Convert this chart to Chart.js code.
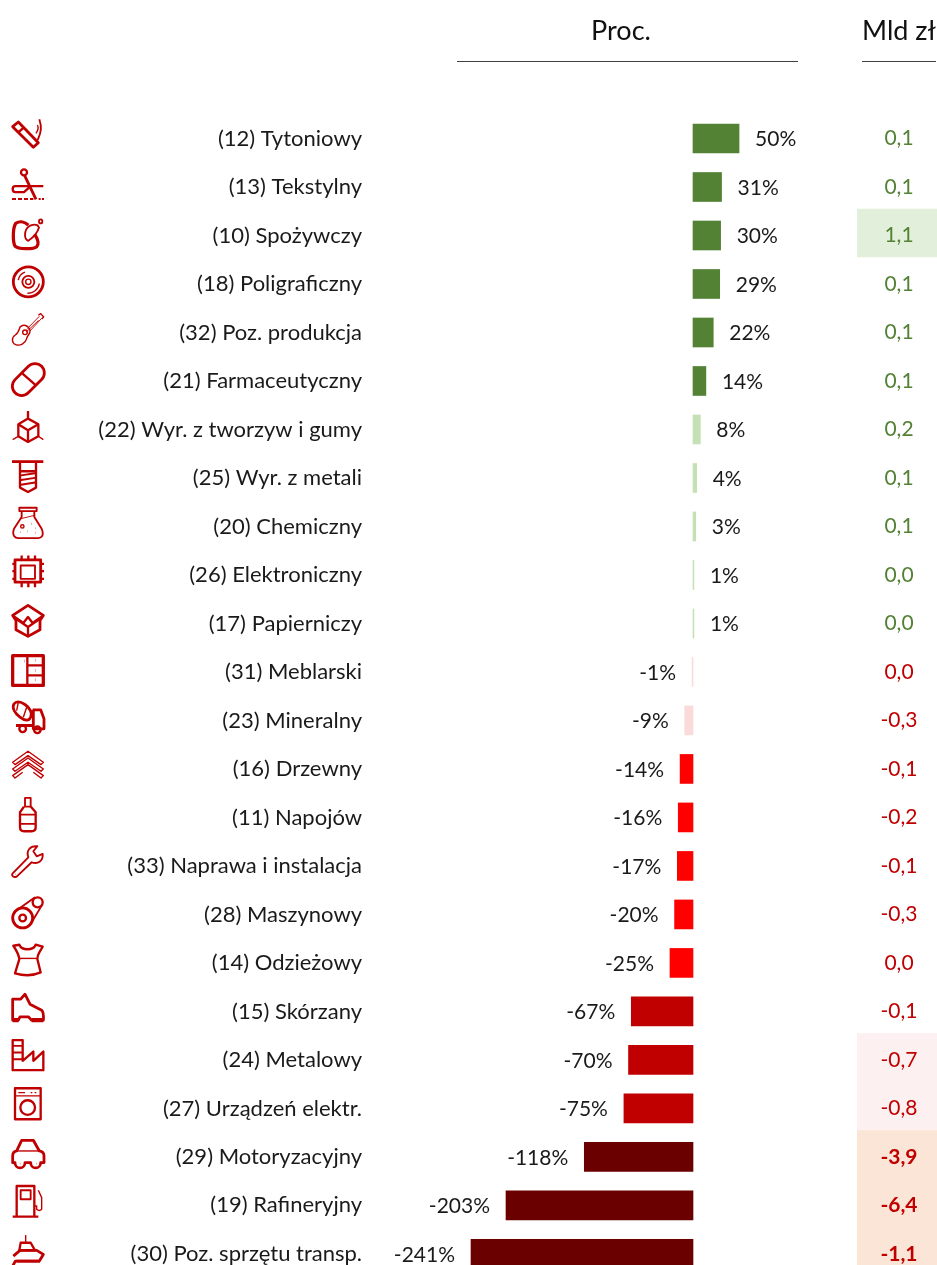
<!DOCTYPE html>
<html><head><meta charset="utf-8">
<style>html,body{margin:0;padding:0;background:#fff;overflow:hidden}#w{width:937px;height:1265px;position:relative}</style>
<script src="https://cdn.jsdelivr.net/npm/chart.js@4"></script>
</head><body><div id="w"><canvas id="c"></canvas></div>
<script>
const categories=["(12) Tytoniowy","(13) Tekstylny","(10) Spożywczy","(18) Poligraficzny","(32) Poz. produkcja","(21) Farmaceutyczny","(22) Wyr. z tworzyw i gumy","(25) Wyr. z metali","(20) Chemiczny","(26) Elektroniczny","(17) Papierniczy","(31) Meblarski","(23) Mineralny","(16) Drzewny","(11) Napojów","(33) Naprawa i instalacja","(28) Maszynowy","(14) Odzieżowy","(15) Skórzany","(24) Metalowy","(27) Urządzeń elektr.","(29) Motoryzacyjny","(19) Rafineryjny","(30) Poz. sprzętu transp."];
const proc=[50,31,30,29,22,14,8,4,3,1,1,-1,-9,-14,-16,-17,-20,-25,-67,-70,-75,-118,-203,-241];
const mld=["0,1","0,1","1,1","0,1","0,1","0,1","0,2","0,1","0,1","0,0","0,0","0,0","-0,3","-0,1","-0,2","-0,1","-0,3","0,0","-0,1","-0,7","-0,8","-3,9","-6,4","-1,1"];
const mldGreenRows=11;
const barColors=["#548235","#548235","#548235","#548235","#548235","#548235","#C5E0B4","#C5E0B4","#C5E0B4","#C5E0B4","#C5E0B4","#FBDADA","#FBDADA","#FF0000","#FF0000","#FF0000","#FF0000","#FF0000","#C00000","#C00000","#C00000","#6B0000","#6B0000","#6B0000"];
const mldBands=[{from:2,to:2,color:"#E2EFDA"},{from:19,to:20,color:"#FDF0F0"},{from:21,to:23,color:"#FBE5D6"}];
const boldFrom=21;
const FONT="Lato, sans-serif";

// icons: [reference row-centre in local units, [width, path]...], local units are 1/3 px
const icons=[
[85.5,[6,"M38,50L55,36L115,98L100,112Z"],[5,"M56,66L72,52"],[4,"M113,90C125,65 125,50 118,28"],[3,"M108,70C115,60 115,50 112,45"]],
[230.7,[5,"M72,187m-9,0a9,9 0 1 0 18,0a9,9 0 1 0 -18,0"],[6,"M74,197L108,268"],[5,"M80,228H130M80,228H46Q38,228 38,237Q38,246 46,246H72L88,232"],[4,"M36,267H48M54,267H66M72,267H84M90,267H100M116,267H122M126,267H132"]],
[375.9,[7,"M85,345C75,335 60,332 47,340C38,355 38,395 45,408C55,418 100,418 110,410C120,400 112,385 104,372"],[4,"M75,375C75,350 95,340 112,345L117,352C112,370 95,385 85,392C78,390 75,385 75,375Z"],[4,"M122,334m-5,0a5,6 0 1 0 10,0a5,6 0 1 0 -10,0"]],
[521,[6,"M40,515a45,45 0 1 0 90,0a45,45 0 1 0 -90,0"],[4,"M67,515a18,18 0 1 0 36,0a18,18 0 1 0 -36,0"],[3,"M77,515a8,8 0 1 0 16,0a8,8 0 1 0 -16,0"],[3,"M55,510A31,31 0 0 1 75,486"],[3,"M118,520A34,34 0 0 1 82,549"]],
[666,[3,"M60,650C70,640 85,645 90,660C92,670 82,675 80,685C76,700 60,708 47,703C35,698 34,682 45,675C52,670 56,665 60,650Z"],[3,"M68,666a7,7 0 1 0 14,0a7,7 0 1 0 -14,0"],[2,"M82,655L118,618M90,662L125,624M78,666L116,630"],[3,"M115,615L122,610L131,620L125,626"]],
[811.5,[6,"M45.2,808.2L85.2,768.2A28,28 0 0 1 124.8,807.8L84.8,847.8A28,28 0 0 1 45.2,808.2Z"],[5,"M65,788L107,825"]],
[86.7,[5,"M84,32V55M84,55L115,72V108L84,125L55,108V72Z"],[5,"M55,72L84,90L115,72M84,90V125"],[3,"M55,108L38,118M115,108L130,118"]],
[232,[6,"M36,184H130"],[5,"M60,184V262L84,275L108,262V184M60,213H108"],[4,"M58,226L110,218M58,240L110,232M58,254L110,246"]],
[377,[4,"M58,322H110V332H58ZM65,332V350L42,385C35,405 45,413 55,413H115C125,413 133,405 125,385L103,350V332"],[2,"M62,355L103,345"],[3,"M62,378a5,5 0 1 0 10,0a5,5 0 1 0 -10,0"],[4,"M95,370h1M83,393h1M107,383h1M62,395h1M105,397h1"]],
[522,[6,"M45,478H122V545H45Z"],[4,"M62,495H105V535H62Z"],[5,"M65,465V478M85,465V478M105,465V478M65,545V560M85,545V560M105,545V560M37,490H45M37,512H45M37,535H45M122,490H132M122,512H132M122,535H132"]],
[667.7,[6,"M84,615L38,645L48,660V688L84,708L120,688V660L130,645Z"],[5,"M48,655L84,680L120,655M84,680V708M38,645L70,668L84,650L98,668L130,645"]],
[813,[7,"M38,766H130V855H38Z"],[5,"M82,766V855M82,795H130M82,825H130"],[6,"M105,780h1M105,810h1M105,838h1M73,782h1"]],
[88,[6,"M42,40C50,30 60,32 75,42C90,52 98,68 92,80C88,92 75,92 60,80C45,68 35,52 42,40Z"],[3,"M55,35L50,60M80,50L70,80"],[6,"M98,58H122L132,85V115H100V58M48,105H100"],[5,"M58,115a10,10 0 1 0 20,0a10,10 0 1 0 -20,0M102,118a10,10 0 1 0 20,0a10,10 0 1 0 -20,0"]],
[233,[3,"M84,182L130,215L123,222L84,195L45,222L38,215Z"],[3,"M84,202L130,235L123,242L84,215L45,242L38,235Z"],[3,"M84,222L130,255L123,262L100,245M68,245L45,262L38,255L84,222"]],
[378.5,[4,"M75,322H92V348H75Z"],[5,"M72,348L60,365V410Q60,422 72,422H95Q107,422 107,410V365L92,348"],[4,"M60,372H107M60,400H107"]],
[523.7,[4,"M38,548L85,500C78,480 90,465 112,467L100,482L110,497L128,490C130,510 115,522 95,515L50,558C42,562 32,555 38,548Z"],[3,"M45,551h1"]],
[669,[6,"M38,682a30,30 0 1 0 60,0a30,30 0 1 0 -60,0"],[5,"M58,682a10,10 0 1 0 20,0a10,10 0 1 0 -20,0"],[5,"M98,635a15,15 0 1 0 30,0a15,15 0 1 0 -30,0"],[4,"M42,665L105,620M92,700L125,645"]],
[814,[5,"M40,765L58,762C65,780 100,780 107,762L128,768L118,785C112,795 112,800 112,805L122,845C100,855 70,855 45,848L58,805C56,790 50,780 40,765Z"],[3,"M58,803H112"]],
[89,[6,"M38,55H62L75,40L90,70L125,88Q132,95 130,118H95L85,108H60L55,118H38Z"],[9,"M38,118H56M95,118H130"]],
[234.3,[5,"M38,178H68V240L100,212V240L130,212V268H38Z"],[4,"M38,195H68M38,215H68M38,235H68"]],
[379.5,[5,"M45,322H122V415H45Z"],[3,"M45,345H122M55,335H75M92,335h5M104,335h5"],[5,"M61,380a22,22 0 1 0 44,0a22,22 0 1 0 -44,0"]],
[524.7,[6,"M38,525Q38,512 50,510L65,478H100L118,510Q132,512 132,525V545H122A15,16 0 0 1 92,545H75A15,16 0 0 1 45,545H38Z"],[3,"M48,510H120"],[4,"M60,548h1M108,548h1"]],
[670,[5,"M50,705V615H103V705M38,707H115"],[4,"M62,628H92V655H62Z"],[3,"M103,675H110V685Q118,692 125,685V650L115,628"]],
[815,[3,"M77,762V785"],[5,"M58,808L62,785H92L105,808Z"],[6,"M40,825L60,808H110L130,820L118,840H50"],[6,"M38,855L46,840H120"]]
];

const overlay={id:"overlay",
 beforeDatasetsDraw(ch){
  const c=ch.ctx,y=ch.scales.y,half=(y.getPixelForValue(1)-y.getPixelForValue(0))/2;
  for(const b of mldBands){
   const t=y.getPixelForValue(b.from)-half-2.5,bt=y.getPixelForValue(b.to)+half-2.5;
   c.fillStyle=b.color;c.fillRect(857,t,80,bt-t);
  }
 },
 afterDatasetsDraw(ch){
  const c=ch.ctx,x=ch.scales.x,y=ch.scales.y;
  c.save();
  // headers
  c.fillStyle="#111";c.font="27px "+FONT;c.textAlign="center";c.textBaseline="middle";
  c.fillText("Proc.",621,31);c.fillText("Mld zł",899,31);
  c.strokeStyle="#404040";c.lineWidth=1;
  c.beginPath();c.moveTo(457,61.5);c.lineTo(798,61.5);c.moveTo(862,61.5);c.lineTo(936,61.5);c.stroke();
  // labels
  proc.forEach((v,i)=>{
   const py=y.getPixelForValue(i),px=x.getPixelForValue(v);
   c.fillStyle="#1a1a1a";
   c.textAlign=v>=0?"left":"right";
   c.font="21px "+FONT;
   c.fillText(v+"%",px+(v>=0?16:-16),py+1);
   c.textAlign="center";
   c.fillStyle=i<mldGreenRows?"#548235":"#C00000";
   c.font=(i>=boldFrom?"bold ":"")+"21px "+FONT;
   c.fillText(mld[i],899,py);
  });
  // icons
  c.strokeStyle="#C00000";c.lineJoin="round";c.lineCap="butt";
  icons.forEach((ic,i)=>{
   c.save();
   c.translate(0,y.getPixelForValue(i));c.scale(1/3,1/3);c.translate(0,-(ic[0]+0.15*i));
   for(let k=1;k<ic.length;k++){c.lineWidth=ic[k][0]*1.4;c.stroke(new Path2D(ic[k][1]));}
   c.restore();
  });
  c.restore();
 }};

const cv=document.getElementById("c");cv.width=937;cv.height=1265;
new Chart(cv,{type:"bar",
 data:{labels:categories,datasets:[{data:proc,backgroundColor:barColors,barThickness:29,clip:false,borderWidth:0}]},
 options:{indexAxis:"y",responsive:false,animation:false,
  layout:{padding:{top:138.5,bottom:11.1,right:139,left:0}},
  plugins:{legend:{display:false},tooltip:{enabled:false}},
  scales:{
   x:{type:"linear",display:false,min:-348.5,max:114},
   y:{type:"category",offset:false,grid:{display:false,drawTicks:false},border:{display:false},
      afterFit(s){s.width=372;s.paddingTop=0;s.paddingBottom=0;},
      ticks:{autoSkip:false,padding:10,color:"#1a1a1a",font:{family:FONT,size:22}}}
  }},
 plugins:[overlay]});
</script></body></html>
